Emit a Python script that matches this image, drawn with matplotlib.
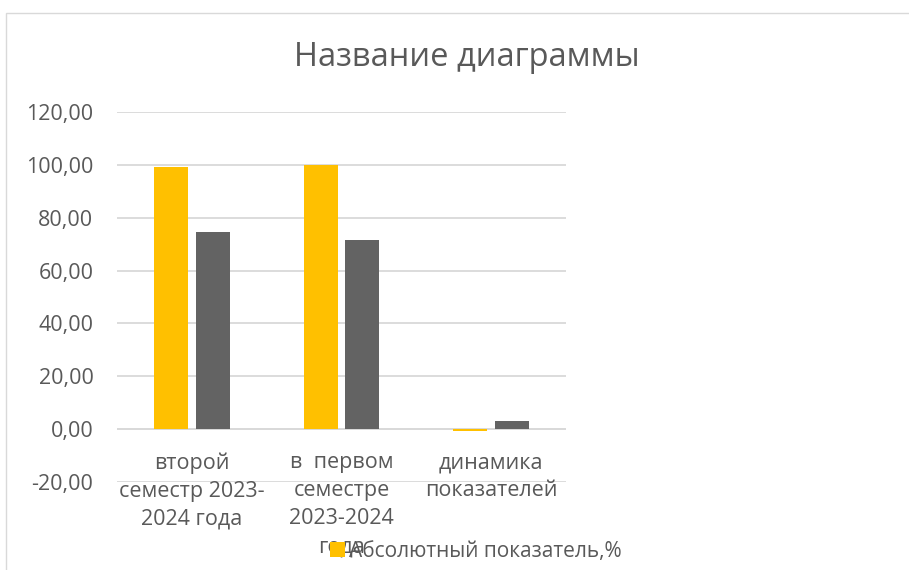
import matplotlib.pyplot as plt
from matplotlib.patches import Rectangle

categories = ['второй\nсеместр 2023-\n2024 года', 'в  первом\nсеместре\n2023-2024\nгода',
              'динамика\nпоказателей']
absolute = [99.2, 100.0, -0.6]
quality = [74.6, 71.6, 3.0]
yticks = [-20, 0, 20, 40, 60, 80, 100, 120]

plt.rcParams['font.family'] = ['Open Sans', 'DejaVu Sans']
text_c = '#595959'
grid_c = '#D9D9D9'

fig = plt.figure(figsize=(9.09, 5.70), dpi=100)
ax = fig.add_axes([117 / 909, 1 - 482 / 570, 449 / 909, 370 / 570])

x = range(len(categories))
w = 0.227
ax.bar([i - 0.14 for i in x], absolute, w, color='#FFC000', label='Абсолютный показатель,%', zorder=3)
ax.bar([i + 0.14 for i in x], quality, w, color='#636363', zorder=3)

ax.set_xlim(-0.5, 2.5)
ax.set_ylim(-20, 120)
ax.set_yticks(yticks)
ax.set_yticklabels([f'{v:.2f}'.replace('.', ',') for v in yticks])
ax.set_xticks(list(x))
ax.set_xticklabels([])
ax.tick_params(axis='both', length=0, labelsize=15.5, colors=text_c)
ax.tick_params(axis='y', pad=17)

# category labels sit under the zero line, like in Excel
for i, lab in zip(x, categories):
    ax.annotate(lab, xy=(i, 0), xytext=(0, -16.5), textcoords='offset points',
                ha='center', va='top', fontsize=15.5, color=text_c, linespacing=1.45)

ax.grid(axis='y', color=grid_c, lw=1.3, zorder=0)
for s in ['top', 'right', 'left', 'bottom']:
    ax.spines[s].set_visible(False)
ax.axhline(0, color=grid_c, lw=1.3, zorder=1)

fig.text(467 / 909, 1 - 58 / 570, 'Название диаграммы', ha='center', va='center',
         fontsize=23.5, color=text_c)

fig.legend(loc='center', bbox_to_anchor=(476 / 909, 1 - 551 / 570), frameon=False,
           fontsize=15, labelcolor=text_c, handlelength=0.7, handleheight=0.7,
           handletextpad=0.2, borderpad=0)

fig.patches.append(Rectangle((5.5 / 909, -0.1), 1.1, 1.1 - 13.5 / 570 + 0.0,
                             transform=fig.transFigure, fill=False, ec=grid_c, lw=1))

fig.savefig('out.png', dpi=100)
